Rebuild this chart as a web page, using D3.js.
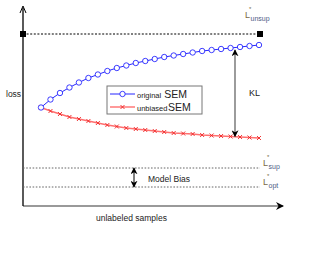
<!DOCTYPE html>
<html lang="en">
<head>
<meta charset="UTF-8">
<title>loss</title>
<style>
  body { margin: 0; background: #fff; }
  svg { display: block; font-family: "Liberation Sans", Arial, sans-serif; }
</style>
</head>
<body>
<svg id="chart" width="332" height="263"></svg>
<script src="https://d3js.org/d3.v7.min.js"></script>
<script>
// data (loss in arbitrary units 0..100)
var samples = d3.range(24);
var originalSEM = [49.25, 53.25, 56.5, 59.25, 61.75, 64, 65.75, 67.5, 69, 70.25, 71.5, 72.5,
                   73.5, 74.5, 75.25, 76, 76.75, 77.5, 78, 78.5, 79, 79.5, 80, 80.5];
var unbiasedSEM = [49.25, 47.5, 46, 44.5, 43.5, 42.5, 41.5, 40.5, 39.75, 39, 38.5, 38,
                   37.5, 37, 36.5, 36.25, 36, 35.5, 35.25, 35, 34.75, 34.5, 34.25, 34];
var refLevels = [
  {name: "unsup", value: 86},
  {name: "sup", value: 19},
  {name: "opt", value: 9.5}
];
var seriesNames = ["original", "unbiased"];

var svg = d3.select("#chart");

var x = d3.scaleLinear().domain([0, 23]).range([41, 259]);
var y = d3.scaleLinear().domain([0, 100]).range([206, 6]);

var x0 = 23, xEnd = 260;

// arrowheads
var defs = svg.append("defs");
defs.append("marker").attr("id", "head").attr("viewBox", "0 0 10 10")
  .attr("refX", 9).attr("refY", 5).attr("markerWidth", 7).attr("markerHeight", 7)
  .attr("orient", "auto-start-reverse").attr("markerUnits", "userSpaceOnUse")
  .append("path").attr("d", "M0,0 L10,5 L0,10 L3,5 Z").attr("fill", "#000");

// axes
svg.append("line").attr("x1", x0).attr("x2", 283).attr("y1", y(0)).attr("y2", y(0))
  .attr("stroke", "#777").attr("stroke-width", 1.3);
svg.append("path").attr("d", "M276,202 L284,206 L276,210 L278.5,206 Z").attr("fill", "#000");
svg.append("line").attr("x1", x0).attr("x2", x0).attr("y1", y(0)).attr("y2", 8)
  .attr("stroke", "#000").attr("stroke-width", 1.3);
svg.append("path").attr("d", "M20,13 L23,6 L26,13").attr("fill", "none")
  .attr("stroke", "#000").attr("stroke-width", 1);

// reference lines
var unsup = refLevels[0], sup = refLevels[1], opt = refLevels[2];
svg.append("line").attr("x1", x0).attr("x2", xEnd).attr("y1", y(unsup.value)).attr("y2", y(unsup.value))
  .attr("stroke", "#000").attr("stroke-dasharray", "2,1.6");
[x0, xEnd].forEach(function(px) {
  svg.append("rect").attr("x", px - 3).attr("y", y(unsup.value) - 3)
    .attr("width", 6).attr("height", 6).attr("fill", "#000");
});
[sup, opt].forEach(function(r) {
  svg.append("line").attr("x1", x0).attr("x2", xEnd).attr("y1", y(r.value)).attr("y2", y(r.value))
    .attr("stroke", "#666").attr("stroke-dasharray", "1.6,1.6");
});

// L* labels: letter, star above, subscript right
function lstar(px, py, sub) {
  svg.append("text").attr("x", px).attr("y", py).attr("font-size", 9).attr("fill", "#7a6a45").text("L");
  svg.append("text").attr("x", px + 4).attr("y", py - 7).attr("font-size", 6).attr("fill", "#7a6a45").text("*");
  svg.append("text").attr("x", px + 5.5).attr("y", py + 3).attr("font-size", 7).attr("fill", "#4d5b86").text(sub);
}
lstar(245, 18, unsup.name);
lstar(263, 166, sup.name);
lstar(263, 185, opt.name);

// series
var lineGen = d3.line().x(function(d, i) { return x(samples[i]); }).y(function(d) { return y(d); });

svg.append("path").datum(unbiasedSEM).attr("d", lineGen)
  .attr("fill", "none").attr("stroke", "#ff6f6f").attr("stroke-width", 1.4);
svg.append("g").selectAll("path").data(unbiasedSEM).enter().append("path")
  .attr("d", function(d, i) {
    var cx = x(samples[i]), cy = y(d), s = 2;
    return "M" + (cx - s) + "," + (cy - s) + "L" + (cx + s) + "," + (cy + s) +
           "M" + (cx - s) + "," + (cy + s) + "L" + (cx + s) + "," + (cy - s);
  })
  .attr("stroke", "#ee2222").attr("stroke-width", 0.9);

svg.append("path").datum(originalSEM).attr("d", lineGen)
  .attr("fill", "none").attr("stroke", "#2727ff").attr("stroke-width", 1);
svg.append("g").selectAll("circle").data(originalSEM).enter().append("circle")
  .attr("cx", function(d, i) { return x(samples[i]); })
  .attr("cy", function(d) { return y(d); })
  .attr("r", 2.7).attr("fill", "#fff").attr("stroke", "#2727ff").attr("stroke-width", 0.9);

// KL arrow
var klX = 235;
svg.append("line").attr("x1", klX).attr("x2", klX)
  .attr("y1", y(originalSEM[20]) + 2).attr("y2", y(unbiasedSEM[20]))
  .attr("stroke", "#666").attr("stroke-width", 1.3)
  .attr("marker-start", "url(#head)").attr("marker-end", "url(#head)");
svg.append("text").attr("x", 249).attr("y", 96).attr("font-size", 9).attr("fill", "#222").text("KL");

// model bias arrow
svg.append("line").attr("x1", 134).attr("x2", 134).attr("y1", y(sup.value)).attr("y2", y(opt.value))
  .attr("stroke", "#000").attr("stroke-width", 1)
  .attr("marker-start", "url(#head)").attr("marker-end", "url(#head)");
svg.append("text").attr("x", 148).attr("y", 182).attr("font-size", 8.5).attr("fill", "#222").text("Model Bias");

// legend
var lg = svg.append("g");
lg.append("rect").attr("x", 107).attr("y", 86).attr("width", 95).attr("height", 28)
  .attr("fill", "#fff").attr("stroke", "#777").attr("stroke-width", 1);
lg.append("line").attr("x1", 110).attr("x2", 135).attr("y1", 94).attr("y2", 94)
  .attr("stroke", "#2727ff").attr("stroke-width", 1);
lg.append("circle").attr("cx", 122.5).attr("cy", 94).attr("r", 2.7)
  .attr("fill", "#fff").attr("stroke", "#2727ff").attr("stroke-width", 0.9);
lg.append("line").attr("x1", 110).attr("x2", 135).attr("y1", 107).attr("y2", 107)
  .attr("stroke", "#ff6f6f").attr("stroke-width", 1.4);
lg.append("path").attr("d", "M120.5,105L124.5,109M120.5,109L124.5,105")
  .attr("stroke", "#ee2222").attr("stroke-width", 0.9);
[[seriesNames[0], 97.5], [seriesNames[1], 110.5]].forEach(function(e) {
  var t = lg.append("text").attr("x", 137).attr("y", e[1]).attr("fill", "#222");
  t.append("tspan").attr("font-size", 7.5).text(e[0]);
  t.append("tspan").attr("font-size", 10.5).attr("dx", e[0] === "original" ? 3 : 0.5).text("SEM");
});

// axis labels
svg.append("text").attr("x", 6).attr("y", 97).attr("font-size", 8.5).attr("fill", "#222").text("loss");
svg.append("text").attr("x", 96).attr("y", 221).attr("font-size", 8.5).attr("fill", "#222").text("unlabeled samples");
</script>
</body>
</html>
